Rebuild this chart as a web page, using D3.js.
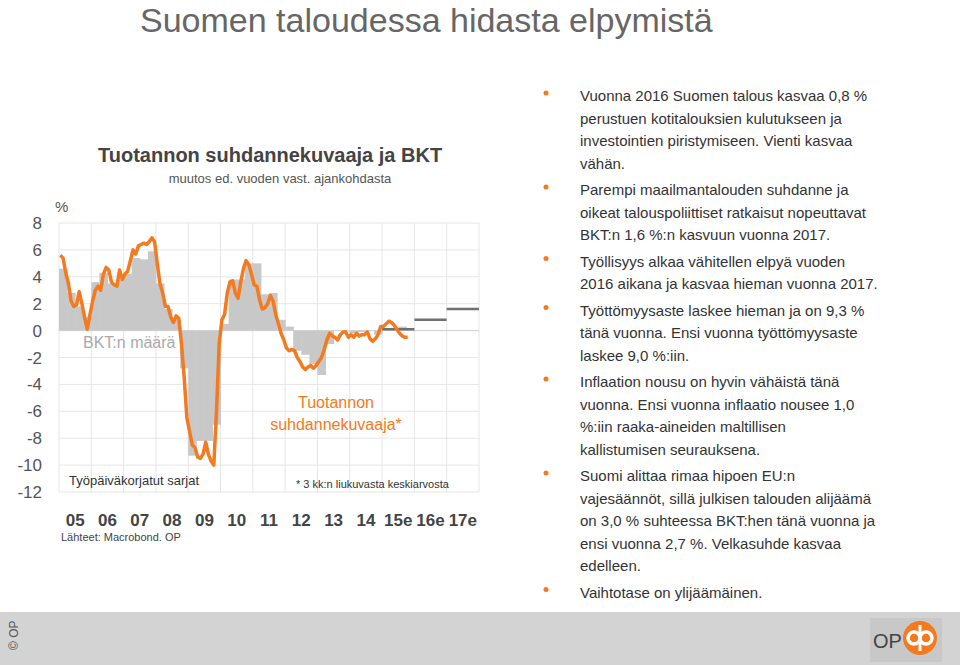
<!DOCTYPE html><html><head><meta charset="utf-8"><script src="https://cdn.jsdelivr.net/npm/d3@7"></script>
<style>body{margin:0;background:#fff;font-family:"Liberation Sans",Arial,sans-serif}</style></head><body><svg id="c" width="960" height="665"></svg>
<script>
const years=["05","06","07","08","09","10","11","12","13","14","15e","16e","17e"];
const yTicks=[8,6,4,2,0,-2,-4,-6,-8,-10,-12];
const gdpQ=[4.6,2.8,1.8,1.0, 3.6,4.3,3.5,3.8, 4.2,5.4,5.3,5.9, 3.5,1.6,0.8,-2.8, -9.3,-8.2,-8.2,-7.0, 0.5,3.8,3.8,5.0, 5.0,2.7,2.8,0.8, 0.3,-1.5,-1.8,-2.5, -3.3,-1.0,0.0,-0.05, -0.2,-0.1,0.0,-0.3, 0.1,0.2,0.3,0.0];
const forecast=[{y:"15e",v:0.1},{y:"16e",v:0.8},{y:"17e",v:1.6}];
const prod=[5.6,5.4,4.3,3.5,2.2,1.8,1.9,2.9,2.0,1.0,0.1,1.2,
2.2,3.0,3.3,3.0,4.2,4.7,4.5,3.6,3.4,3.3,4.5,3.8,
4.2,4.4,5.2,6.0,5.7,6.3,6.4,6.5,6.4,6.6,6.9,6.6,
5.0,3.5,2.8,1.8,1.8,1.0,0.6,1.1,0.9,-1.0,-3.5,-6.5,
-7.5,-8.5,-8.7,-9.4,-9.5,-9.2,-8.3,-9.2,-9.7,-10.0,-6.0,-1.0,
0.8,1.2,2.8,3.6,3.7,2.8,2.4,3.6,4.6,5.2,4.9,4.2,
3.4,3.3,2.3,1.6,1.7,2.0,2.6,2.2,1.2,0.5,-0.2,-0.7,
-1.3,-1.5,-1.4,-1.5,-2.0,-2.3,-2.7,-2.9,-2.7,-2.6,-2.8,-2.6,
-2.3,-2.0,-1.4,-0.7,-0.2,-0.4,-0.5,-0.7,-0.3,-0.1,-0.1,-0.5,
-0.3,-0.5,-0.2,-0.4,-0.3,-0.3,-0.1,-0.6,-0.8,-0.6,-0.3,0.3,
0.3,0.5,0.7,0.6,0.4,0.1,-0.2,-0.4,-0.5,-0.5];
const bullets=[
["Vuonna 2016 Suomen talous kasvaa 0,8 %","perustuen kotitalouksien kulutukseen ja","investointien piristymiseen. Vienti kasvaa","vähän."],
["Parempi maailmantalouden suhdanne ja","oikeat talouspoliittiset ratkaisut nopeuttavat","BKT:n 1,6 %:n kasvuun vuonna 2017."],
["Työllisyys alkaa vähitellen elpyä vuoden","2016 aikana ja kasvaa hieman vuonna 2017."],
["Työttömyysaste laskee hieman ja on 9,3 %","tänä vuonna. Ensi vuonna työttömyysaste","laskee 9,0 %:iin."],
["Inflaation nousu on hyvin vähäistä tänä","vuonna. Ensi vuonna inflaatio nousee 1,0","%:iin raaka-aineiden maltillisen","kallistumisen seurauksena."],
["Suomi alittaa rimaa hipoen EU:n","vajesäännöt, sillä julkisen talouden alijäämä","on 3,0 % suhteessa BKT:hen tänä vuonna ja","ensi vuonna 2,7 %. Velkasuhde kasvaa","edelleen."],
["Vaihtotase on ylijäämäinen."]];
const svg=d3.select("#c");
const L=59,R=479,T=223,B=492;
const x=d3.scaleLinear().domain([0,13]).range([L,R]);
const y=d3.scaleLinear().domain([-12,8]).range([B,T]);
svg.append("text").attr("x",140).attr("y",32).attr("font-size",34).attr("fill","#666").text("Suomen taloudessa hidasta elpymistä");
svg.append("text").attr("x",98).attr("y",162).attr("font-size",20).attr("font-weight","bold").attr("fill","#444").text("Tuotannon suhdannekuvaaja ja BKT");
svg.append("text").attr("x",280).attr("y",183).attr("text-anchor","middle").attr("font-size",13).attr("fill","#555").text("muutos ed. vuoden vast. ajankohdasta");
svg.append("g").selectAll("line").data(yTicks).join("line").attr("x1",L).attr("x2",R).attr("y1",d=>y(d)).attr("y2",d=>y(d)).attr("stroke","#e6e6e6");
svg.append("g").selectAll("line").data(d3.range(14)).join("line").attr("x1",d=>x(d)).attr("x2",d=>x(d)).attr("y1",T).attr("y2",B).attr("stroke","#e6e6e6");
svg.append("g").selectAll("rect").data(gdpQ).join("rect").attr("x",(d,i)=>x(i/4)).attr("width",x(0.25)-x(0)+0.5)
 .attr("y",d=>y(Math.max(0,d))).attr("height",d=>Math.abs(y(d)-y(0))).attr("fill","#c8c8c8");
svg.append("line").attr("x1",L).attr("x2",R).attr("y1",y(0)).attr("y2",y(0)).attr("stroke","#d0d0d0");
svg.append("g").selectAll("line").data(forecast).join("line").attr("x1",d=>x(years.indexOf(d.y))).attr("x2",d=>x(years.indexOf(d.y)+1)).attr("y1",d=>y(d.v)).attr("y2",d=>y(d.v)).attr("stroke","#707070").attr("stroke-width",2.5);
svg.append("path").datum(prod).attr("fill","none").attr("stroke","#f47a20").attr("stroke-width",3.5).attr("stroke-linejoin","round")
 .attr("d",d3.line().x((d,i)=>x((i+0.5)/12)).y(d=>y(d)));
svg.append("g").selectAll("text").data(yTicks).join("text").attr("x",42).attr("y",d=>y(d)+6).attr("text-anchor","end").attr("font-size",17).attr("fill","#555").text(d=>d);
svg.append("text").attr("x",55).attr("y",212).attr("font-size",15).attr("fill","#555").text("%");
svg.append("g").selectAll("text").data(years).join("text").attr("x",(d,i)=>x(i+0.5)).attr("y",526).attr("text-anchor","middle").attr("font-size",17).attr("font-weight","bold").attr("fill","#444").text(d=>d);
svg.append("text").attr("x",61).attr("y",541).attr("font-size",11).attr("fill","#444").text("Lähteet: Macrobond. OP");
svg.append("text").attr("x",83).attr("y",348).attr("font-size",16).attr("fill","#aaa").text("BKT:n määrä");
svg.append("text").attr("x",336).attr("y",408).attr("text-anchor","middle").attr("font-size",16).attr("fill","#f47a20").text("Tuotannon");
svg.append("text").attr("x",336).attr("y",430).attr("text-anchor","middle").attr("font-size",16).attr("fill","#f47a20").text("suhdannekuvaaja*");
svg.append("text").attr("x",69).attr("y",485).attr("font-size",13).attr("fill","#333").text("Työpäiväkorjatut sarjat");
svg.append("text").attr("x",296).attr("y",488).attr("font-size",11).attr("fill","#333").text("* 3 kk:n liukuvasta keskiarvosta");
let yy=101;
bullets.forEach(b=>{
 svg.append("circle").attr("cx",546).attr("cy",yy-8).attr("r",2.5).attr("fill","#f47a20");
 b.forEach(t=>{svg.append("text").attr("x",580).attr("y",yy).attr("font-size",15).attr("fill","#333").text(t);yy+=22.5;});
 yy+=4;
});
svg.append("rect").attr("x",0).attr("y",612).attr("width",960).attr("height",53).attr("fill","#d3d3d3");
svg.append("text").attr("transform","translate(18,650) rotate(-90)").attr("font-size",12).attr("fill","#555").text("© OP");
svg.append("rect").attr("x",870).attr("y",618).attr("width",72).attr("height",44).attr("fill","#c8c8c8");
svg.append("text").attr("x",873).attr("y",648).attr("font-size",20).attr("fill","#444").text("OP");
svg.append("circle").attr("cx",920).attr("cy",638).attr("r",17).attr("fill","#f47a20");
svg.append("circle").attr("cx",914).attr("cy",638).attr("r",6).attr("fill","none").attr("stroke","#fff").attr("stroke-width",3.5);
svg.append("circle").attr("cx",926).attr("cy",638).attr("r",6).attr("fill","none").attr("stroke","#fff").attr("stroke-width",3.5);
svg.append("line").attr("x1",920).attr("x2",920).attr("y1",625).attr("y2",651).attr("stroke","#fff").attr("stroke-width",3);
</script></body></html>
